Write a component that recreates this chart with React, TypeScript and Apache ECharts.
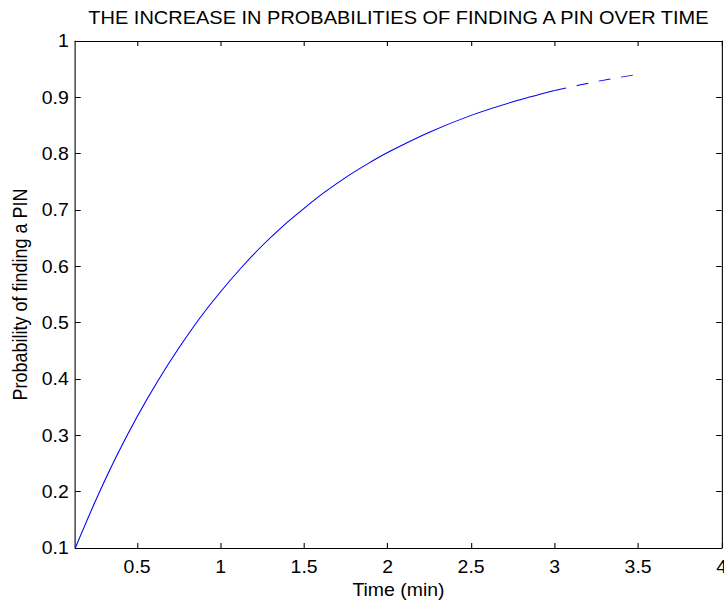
import React, { useEffect, useRef } from "react";
import * as echarts from "echarts";

const TITLE = "THE INCREASE IN PROBABILITIES OF FINDING A PIN OVER TIME";
const X_NAME = "Time (min)";
const Y_NAME = "Probability of finding a PIN";

const xTicks = [0.5, 1, 1.5, 2, 2.5, 3, 3.5, 4];
const xMin = 0.13;
const xMax = 4;
const yMin = 0.1;
const yMax = 1;
const yStep = 0.1;

// solid part of the curve
const solidTime = [0.13, 0.25, 0.375, 0.5, 0.625, 0.75, 0.875, 1.0, 1.125, 1.25, 1.375, 1.5, 1.625, 1.75, 1.875, 2.0, 2.25, 2.5, 2.75, 3.0];
const solidProb = [0.1, 0.183, 0.262, 0.333, 0.397, 0.455, 0.508, 0.555, 0.598, 0.637, 0.672, 0.703, 0.732, 0.758, 0.781, 0.802, 0.838, 0.868, 0.892, 0.912];

// dashed continuation
const dashedTime = [3.0, 3.25, 3.5];
const dashedProb = [0.912, 0.928, 0.941];

const W = 670;
const H = 602;
const SX = 724 / W;
const FONT = "'Liberation Sans', Arial, Helvetica, sans-serif";
const FS = 18;

export default function App() {
  const ref = useRef<HTMLDivElement>(null);

  useEffect(() => {
    const chart = echarts.init(ref.current as HTMLDivElement, null, { renderer: "svg" });
    const axisLine = { show: true, onZero: false, lineStyle: { color: "#000", width: 1 } };
    const tickStyle = { color: "#000", width: 1 };
    const labelStyle = { color: "#000", fontSize: FS, fontFamily: FONT };
    const gridLeft = 75.3 / SX;
    const gridRight = W - 721.6 / SX;

    chart.setOption({
      animation: false,
      backgroundColor: "#fff",
      grid: { left: gridLeft, right: gridRight, top: 41, bottom: 54, containLabel: false, outerBoundsMode: "none" },
      graphic: [
        {
          type: "text",
          x: (75.3 + 721.6) / 2 / SX,
          y: 18,
          style: {
            text: TITLE,
            fill: "#000",
            fontSize: 18.5,
            fontFamily: FONT,
            align: "center",
            verticalAlign: "middle",
            textAlign: "center",
            textVerticalAlign: "middle",
          },
        },
      ],
      xAxis: [
        {
          type: "value",
          position: "bottom",
          min: xMin,
          max: xMax,
          axisLine,
          axisTick: { show: true, inside: true, length: 5, customValues: xTicks, lineStyle: tickStyle },
          axisLabel: { show: true, customValues: xTicks, margin: 10, ...labelStyle },
          splitLine: { show: false },
          name: X_NAME,
          nameLocation: "middle",
          nameGap: 30,
          nameTextStyle: { ...labelStyle },
        },
        {
          type: "value",
          position: "top",
          min: xMin,
          max: xMax,
          axisLine,
          axisTick: { show: true, inside: true, length: 5, customValues: xTicks, lineStyle: tickStyle },
          axisLabel: { show: false },
          splitLine: { show: false },
        },
      ],
      yAxis: [
        {
          type: "value",
          position: "left",
          min: yMin,
          max: yMax,
          interval: yStep,
          axisLine,
          axisTick: { show: true, inside: true, length: 5, lineStyle: tickStyle },
          axisLabel: { show: true, margin: 6, ...labelStyle },
          splitLine: { show: false },
          name: Y_NAME,
          nameLocation: "middle",
          nameGap: 39,
          nameTextStyle: { ...labelStyle },
        },
        {
          type: "value",
          position: "right",
          min: yMin,
          max: yMax,
          interval: yStep,
          axisLine,
          axisTick: { show: true, inside: true, length: 5, lineStyle: tickStyle },
          axisLabel: { show: false },
          splitLine: { show: false },
        },
      ],
      series: [
        {
          type: "line",
          xAxisIndex: 0,
          yAxisIndex: 0,
          data: solidTime.map((t, i) => [t, solidProb[i]]),
          showSymbol: false,
          symbol: "none",
          smooth: 0.3,
          silent: true,
          lineStyle: { color: "#0000ff", width: 1 },
        },
        {
          type: "line",
          xAxisIndex: 0,
          yAxisIndex: 0,
          data: dashedTime.map((t, i) => [t, dashedProb[i]]),
          showSymbol: false,
          symbol: "none",
          smooth: 0.3,
          silent: true,
          lineStyle: { color: "#0000ff", width: 1, type: [11, 10] },
        },
      ],
    });

    return () => chart.dispose();
  }, []);

  return (
    <div
      ref={ref}
      style={{
        position: "fixed",
        left: 0,
        top: 0,
        width: W,
        height: H,
        transform: `scaleX(${SX})`,
        transformOrigin: "0 0",
        background: "#fff",
      }}
    />
  );
}
